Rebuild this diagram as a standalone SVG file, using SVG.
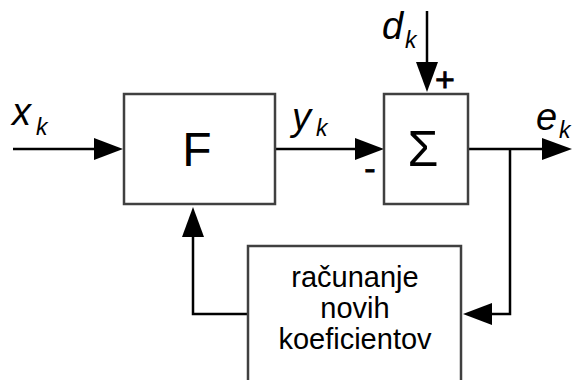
<svg xmlns="http://www.w3.org/2000/svg" width="575" height="380" viewBox="0 0 575 380">
<style>
.box{fill:#fff;stroke:#404040;stroke-width:2.5}
.ln{fill:none;stroke:#000;stroke-width:2.5}
.ah{fill:#000;stroke:none}
text{font-family:"Liberation Sans",Arial,sans-serif;fill:#000}
.lab{font-size:38px;font-style:italic}
.sub{font-size:23px;font-style:italic}
.big{font-size:48px;text-anchor:middle}
.body{font-size:29px;text-anchor:middle}
.sgn{font-size:34px;text-anchor:middle;stroke:#000;stroke-width:0.8}
</style>
<rect width="575" height="380" fill="#fff"/>
<g id="connectors">
  <line class="ln" x1="13" y1="149" x2="96" y2="149"/>
  <polygon class="ah" points="123,149 94,138 94,160"/>
  <line class="ln" x1="275" y1="149" x2="357" y2="149"/>
  <polygon class="ah" points="384,149 355,138 355,160"/>
  <line class="ln" x1="427" y1="11" x2="427" y2="64"/>
  <polygon class="ah" points="427,92 416,62 438,62"/>
  <line class="ln" x1="468" y1="149" x2="545" y2="149"/>
  <polygon class="ah" points="572,149 542,138 542,160"/>
  <polyline class="ln" points="510,149 510,314 490,314"/>
  <polygon class="ah" points="463,314 492,303 492,325"/>
  <polyline class="ln" points="248,314 193,314 193,235"/>
  <polygon class="ah" points="193,207 182,237 204,237"/>
</g>
<g id="F">
  <rect class="box" x="124" y="94" width="151" height="110"/>
  <text class="big" x="197" y="166">F</text>
</g>
<g id="sum">
  <rect class="box" x="384" y="94" width="84" height="110"/>
  <text class="big" x="423" y="166" style="font-size:50px">Σ</text>
  <text class="sgn" x="445" y="91">+</text>
  <text class="sgn" x="370" y="180">-</text>
</g>
<g id="update">
  <rect class="box" x="248" y="246" width="213" height="150"/>
  <text class="body" x="355" y="287">računanje</text>
  <text class="body" x="355" y="318">novih</text>
  <text class="body" x="355" y="349">koeficientov</text>
</g>
<g id="labels">
  <text class="lab" x="12" y="125">x</text><text class="sub" x="36" y="135">k</text>
  <text class="lab" x="292" y="130">y</text><text class="sub" x="316" y="136">k</text>
  <text class="lab" x="382" y="39">d</text><text class="sub" x="405" y="48">k</text>
  <text class="lab" x="536" y="130">e</text><text class="sub" x="559" y="138">k</text>
</g>
</svg>
